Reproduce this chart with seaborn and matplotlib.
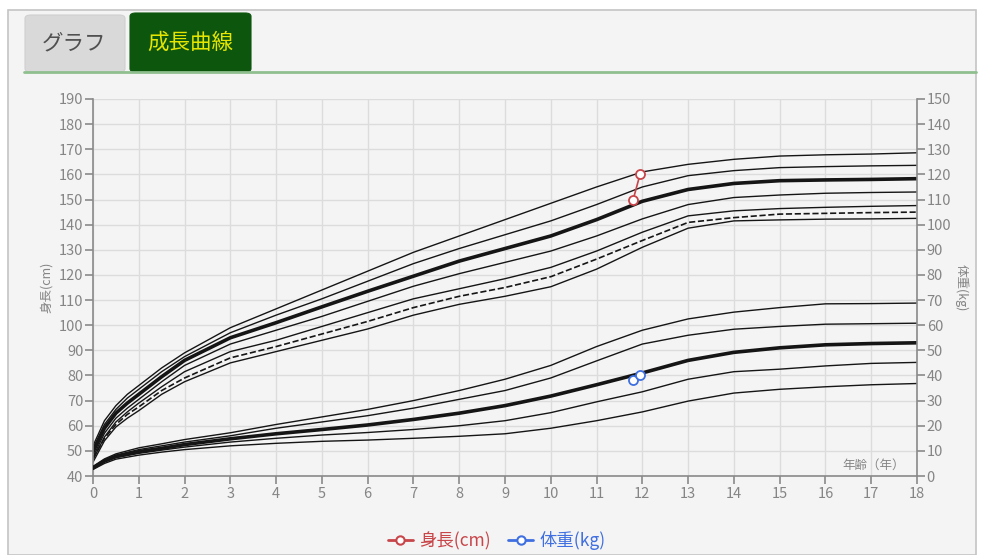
import numpy as np
import pandas as pd
import seaborn as sns
import matplotlib.pyplot as plt
from matplotlib.patches import Rectangle, FancyBboxPatch
from matplotlib.lines import Line2D

# ---- data ----
ages_h = [0, 0.25, 0.5, 0.75, 1, 1.5, 2, 3, 4, 5, 6, 7, 8, 9, 10, 11, 12, 13, 14, 15, 16, 17, 18]
h_p1 = [52, 62, 68, 72.5, 76, 83, 89, 99, 106.5, 114, 121.5, 129, 135.5, 142, 148.5, 155, 161, 164, 166, 167.3, 167.8, 168.1, 168.6]
h_p2 = [51, 60.5, 66.5, 71, 74.5, 81.5, 87.5, 97, 104, 110.5, 117.5, 124.5, 130.5, 136, 141.5, 148, 155, 159.5, 161.5, 162.7, 163.1, 163.4, 163.6]
h_p3 = [49.5, 59, 65, 69, 72.5, 79.5, 86, 95, 101, 107.3, 113.5, 119.5, 125.5, 130.5, 135.5, 142, 149.3, 154, 156.4, 157.5, 157.8, 158, 158.3]
h_p4 = [47.5, 57, 63, 67, 70.5, 77.5, 84, 92.5, 98, 103.5, 109.5, 115.5, 120.5, 125, 129.5, 135.5, 142.3, 148, 150.8, 151.8, 152.5, 152.8, 153]
h_p5 = [46.5, 55.5, 61.5, 65.5, 69, 75.5, 81.5, 89.5, 94, 99.5, 105, 110.5, 114.5, 118.5, 123, 129.5, 137, 143.5, 145.5, 146.4, 146.9, 147.3, 147.6]
h_dash = [47, 55, 60.5, 64.5, 67.5, 74, 79, 87, 91.5, 96.5, 101.5, 107, 111.5, 115, 119.3, 126.3, 133.7, 140.9, 142.8, 144.2, 144.5, 144.8, 145]
h_p6 = [45.5, 54, 59.5, 63, 66, 72.5, 77.5, 85, 89.5, 94, 98.5, 104, 108.3, 111.5, 115.3, 122.3, 131, 138.6, 141.5, 141.9, 142.2, 142.3, 142.5]

ages_w = [0, 0.25, 0.5, 1, 1.5, 2, 3, 4, 5, 6, 7, 8, 9, 10, 11, 12, 13, 14, 15, 16, 17, 18]
w_p1 = [3.8, 6.8, 8.8, 11.2, 12.8, 14.5, 17.2, 20.5, 23.5, 26.5, 30, 34, 38.5, 44, 51.5, 58, 62.5, 65.2, 67, 68.5, 68.6, 68.8]
w_p2 = [3.5, 6.3, 8.3, 10.5, 12, 13.5, 16, 19, 21.5, 24, 27, 30.5, 34, 39, 45.8, 52.5, 56, 58.4, 59.5, 60.4, 60.6, 60.8]
w_p3 = [3.2, 6, 7.8, 9.7, 11, 12.5, 14.8, 16.8, 18.5, 20.3, 22.5, 25, 28, 31.8, 36.3, 41, 46, 49.2, 51, 52.2, 52.7, 53]
w_p4 = [3.0, 5.6, 7.3, 9, 10.3, 11.5, 13.5, 15, 16.3, 17.3, 18.5, 20, 22, 25.2, 29.5, 33.5, 38.5, 41.5, 42.5, 43.8, 44.8, 45.2]
w_p5 = [2.6, 5, 6.7, 8.3, 9.5, 10.5, 12, 13, 13.8, 14.3, 15, 15.8, 16.8, 19, 22, 25.5, 29.8, 33, 34.5, 35.5, 36.3, 36.8]

meas_age = [11.8, 11.95]
meas_height = [150, 160]
meas_weight = [38, 40]

x_ticks = list(range(0, 19))
h_ticks = list(range(40, 191, 10))
w_ticks = list(range(0, 151, 10))

# ---- style ----
sns.set_theme(style="white")
plt.rcParams['font.family'] = ['Noto Sans CJK JP', 'DejaVu Sans']

W, H = 986, 555
fig = plt.figure(figsize=(W / 100, H / 100), dpi=100)
fig.patch.set_facecolor("white")

def fx(px):
    return px / W

def fy(py):
    return 1 - py / H

# panel frame + tabs (kept under the axes)
fig.patches.append(Rectangle((fx(8), 0), fx(968), fy(10), transform=fig.transFigure,
                             facecolor="#f4f4f4", edgecolor="#c4c4c4", lw=1.2, zorder=-3))
fig.patches.append(FancyBboxPatch((fx(25), fy(72)), fx(100), fy(15) - fy(72),
                                  boxstyle="round,pad=0,rounding_size=0.006",
                                  transform=fig.transFigure, facecolor="#d9d9d9",
                                  edgecolor="#d0d0d0", lw=0.8, zorder=-2))
fig.patches.append(FancyBboxPatch((fx(130), fy(72)), fx(121), fy(13) - fy(72),
                                  boxstyle="round,pad=0,rounding_size=0.006",
                                  transform=fig.transFigure, facecolor="#0d560d",
                                  edgecolor="#0d560d", lw=0.8, zorder=-2))
fig.lines.append(Line2D([fx(24), fx(976)], [fy(72), fy(72)], transform=fig.transFigure,
                        color="#8fbf8f", lw=2, zorder=-1))
fig.text(fx(74), fy(43), "グラフ", ha="center", va="center", fontsize=15.5, color="#505050")
fig.text(fx(190), fy(43), "成長曲線", ha="center", va="center", fontsize=15.5, color="#e6e600")

ax = fig.add_axes([fx(93), fy(476), fx(917) - fx(93), fy(99) - fy(476)])
ax.set_facecolor("#f4f4f4")
ax2 = ax.twinx()

line_c = "#151515"
for vals, lw, ls in [(h_p1, 1.0, "-"), (h_p2, 1.0, "-"), (h_p3, 2.6, "-"),
                     (h_p4, 1.0, "-"), (h_p5, 1.0, "-"), (h_dash, 1.2, "--"), (h_p6, 1.0, "-")]:
    sns.lineplot(x=ages_h, y=vals, ax=ax, color=line_c, lw=lw, linestyle=ls, legend=False)

for vals, lw in [(w_p1, 1.0), (w_p2, 1.0), (w_p3, 2.6), (w_p4, 1.0), (w_p5, 1.0)]:
    sns.lineplot(x=ages_w, y=vals, ax=ax2, color=line_c, lw=lw, legend=False)

red = "#c8454a"
blue = "#3f6fe0"
ax.plot(meas_age, meas_height, color=red, lw=1.2, marker="o", ms=6.5,
        mfc="white", mec=red, mew=1.3, zorder=5)
ax2.plot(meas_age, meas_weight, color=blue, lw=1.2, marker="o", ms=6.5,
         mfc="white", mec=blue, mew=1.3, zorder=5)

ax.set_xlim(0, 18)
ax.set_ylim(40, 190)
ax2.set_ylim(0, 150)
ax.set_xticks(x_ticks)
ax.set_yticks(h_ticks)
ax2.set_yticks(w_ticks)
ax.grid(True, color="#dcdcdc", lw=1)
ax.set_axisbelow(True)

tick_c = "#858585"
for a in (ax, ax2):
    for s in a.spines.values():
        s.set_visible(False)
ax.spines["left"].set_visible(True)
ax.spines["bottom"].set_visible(True)
ax2.spines["right"].set_visible(True)
for s in (ax.spines["left"], ax.spines["bottom"], ax2.spines["right"]):
    s.set_color("#8a8a8a")
    s.set_linewidth(1.2)

ax.tick_params(axis="y", direction="out", length=6, width=1.2, color="#8a8a8a",
               labelcolor=tick_c, labelsize=10.5, left=True, pad=1)
ax.tick_params(axis="x", direction="out", length=6, width=1.2, color="#8a8a8a",
               labelcolor=tick_c, labelsize=10.5, bottom=True, pad=2)
ax2.tick_params(axis="y", direction="out", length=6, width=1.2, color="#8a8a8a",
                labelcolor=tick_c, labelsize=10.5, right=True, pad=1)

ax.set_ylabel("身長(cm)", color=tick_c, fontsize=9, labelpad=4)
ax2.set_ylabel("体重(kg)", color=tick_c, fontsize=9, rotation=-90, labelpad=12)
ax.text(0.985, 0.012, "年齢（年）", transform=ax.transAxes, ha="right", va="bottom",
        fontsize=9, color=tick_c)

handles = [Line2D([], [], color=red, lw=2, marker="o", ms=6, mfc="white", mec=red, mew=1.5),
           Line2D([], [], color=blue, lw=2, marker="o", ms=6, mfc="white", mec=blue, mew=1.5)]
leg = fig.legend(handles, ["身長(cm)", "体重(kg)"], loc="center", bbox_to_anchor=(fx(497), fy(541)),
                 ncol=2, frameon=False, fontsize=12.5, handlelength=1.4, handletextpad=0.4,
                 columnspacing=1.0)
for t, c in zip(leg.get_texts(), [red, blue]):
    t.set_color(c)

fig.savefig("out.png", dpi=100, facecolor=fig.get_facecolor())
